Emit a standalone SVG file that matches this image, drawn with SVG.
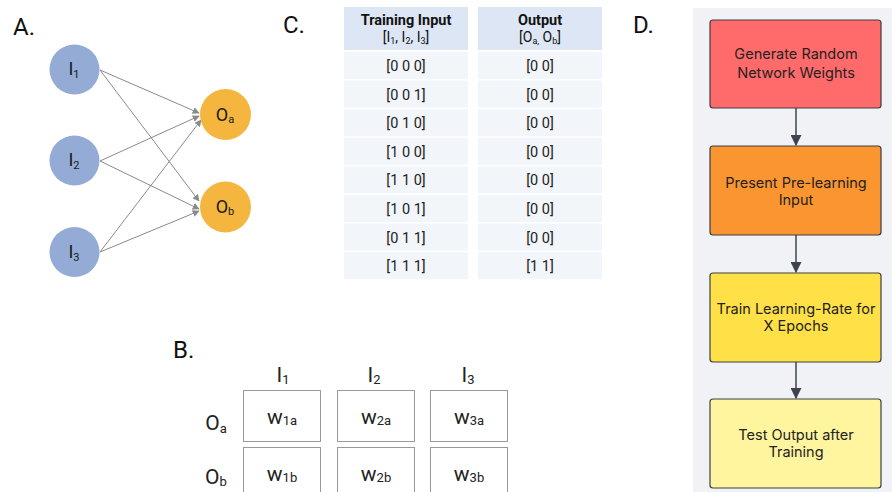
<svg xmlns="http://www.w3.org/2000/svg" width="892" height="492" viewBox="0 0 892 492">
<defs>
<marker id="ga" viewBox="0 0 10 10" refX="9" refY="5" markerWidth="7" markerHeight="7" orient="auto" markerUnits="userSpaceOnUse"><path d="M0,0 L10,5 L0,10 z" fill="#8a8a8a"/></marker>
<marker id="da" viewBox="0 0 10 10" refX="9" refY="5" markerWidth="11" markerHeight="11" orient="auto" markerUnits="userSpaceOnUse"><path d="M0,0 L10,5 L0,10 z" fill="#3d4450"/></marker>
</defs>
<style>
.lbl{font-family:Roboto,"Liberation Sans",sans-serif;font-size:24px;fill:#111}
.in{fill:#94abd6}
.out{fill:#f4b63f}
.nt{font-family:Roboto,"Liberation Sans",sans-serif;font-size:18px;fill:#1a1a1a;text-anchor:middle}
.sub{font-size:11px}
.hd{fill:#dde6f5}
.rw{fill:#f2f5fa}
.ht{font-family:Roboto,"Liberation Sans",sans-serif;font-size:14.5px;font-weight:bold;fill:#111;text-anchor:middle}
.hs{font-family:Roboto,"Liberation Sans",sans-serif;font-size:14px;fill:#111;text-anchor:middle}
.rt{font-family:Roboto,"Liberation Sans",sans-serif;font-size:14.5px;fill:#222;text-anchor:middle}
.wb{fill:#fff;stroke:#999;stroke-width:1}
.wt{font-family:Roboto,"Liberation Sans",sans-serif;font-size:21px;fill:#222;text-anchor:middle}
.ws{font-size:13px}
.fb{stroke:#3a3f47;stroke-width:1.2}
.ft{font-family:Inter,"Liberation Sans",sans-serif;font-size:14.5px;fill:#222;text-anchor:middle}
.gl{stroke:#8a8a8a;stroke-width:1;fill:none}
.dl{stroke:#3d4450;stroke-width:1.5;fill:none}
</style>
<rect width="892" height="492" fill="#fff"/>

<!-- Panel labels -->
<text class="lbl" x="13" y="35">A.</text>
<text class="lbl" x="283" y="33">C.</text>
<text class="lbl" x="173" y="358">B.</text>
<text class="lbl" x="633" y="33">D.</text>

<!-- Panel A connectors -->
<g id="connectors-a">
<line class="gl" x1="100" y1="70" x2="199" y2="113" marker-end="url(#ga)"/>
<line class="gl" x1="100" y1="70" x2="199" y2="201" marker-end="url(#ga)"/>
<line class="gl" x1="100" y1="161" x2="199" y2="116" marker-end="url(#ga)"/>
<line class="gl" x1="100" y1="161" x2="199" y2="209" marker-end="url(#ga)"/>
<line class="gl" x1="100" y1="252" x2="201" y2="120" marker-end="url(#ga)"/>
<line class="gl" x1="100" y1="252" x2="199" y2="211" marker-end="url(#ga)"/>
</g>
<g id="node-I1"><circle class="in" cx="74.5" cy="69.5" r="25"/><text class="nt" x="74" y="75">I<tspan class="sub" dy="3">1</tspan></text></g>
<g id="node-I2"><circle class="in" cx="74.5" cy="160.5" r="25"/><text class="nt" x="74" y="166">I<tspan class="sub" dy="3">2</tspan></text></g>
<g id="node-I3"><circle class="in" cx="74.5" cy="252" r="25"/><text class="nt" x="74" y="258">I<tspan class="sub" dy="3">3</tspan></text></g>
<g id="node-Oa"><circle class="out" cx="225.5" cy="114.5" r="25.5"/><text class="nt" x="225" y="121">O<tspan class="sub" dy="2">a</tspan></text></g>
<g id="node-Ob"><circle class="out" cx="225.5" cy="207" r="25.5"/><text class="nt" x="225" y="213">O<tspan class="sub" dy="2">b</tspan></text></g>

<!-- Panel C table -->
<g id="table">
<rect class="hd" x="344" y="7" width="124" height="43"/>
<rect class="hd" x="478" y="7" width="124" height="43"/>
<text class="ht" x="406" y="25">Training Input</text>
<text class="hs" x="406" y="42">[I<tspan font-size="9" dy="2">1</tspan><tspan dy="-2">, I</tspan><tspan font-size="9" dy="2">2</tspan><tspan dy="-2">, I</tspan><tspan font-size="9" dy="2">3</tspan><tspan dy="-2">]</tspan></text>
<text class="ht" x="540" y="25">Output</text>
<text class="hs" x="540" y="42">[O<tspan font-size="9" dy="2">a,</tspan><tspan dy="-2"> O</tspan><tspan font-size="9" dy="2">b</tspan><tspan dy="-2">]</tspan></text>

<rect class="rw" x="344" y="52" width="124" height="27"/><rect class="rw" x="478" y="52" width="124" height="27"/>
<text class="rt" x="406" y="71">[0 0 0]</text><text class="rt" x="540" y="71">[0 0]</text>
<rect class="rw" x="344" y="80.6" width="124" height="27"/><rect class="rw" x="478" y="80.6" width="124" height="27"/>
<text class="rt" x="406" y="99.6">[0 0 1]</text><text class="rt" x="540" y="99.6">[0 0]</text>
<rect class="rw" x="344" y="109.2" width="124" height="27"/><rect class="rw" x="478" y="109.2" width="124" height="27"/>
<text class="rt" x="406" y="128.2">[0 1 0]</text><text class="rt" x="540" y="128.2">[0 0]</text>
<rect class="rw" x="344" y="137.8" width="124" height="27"/><rect class="rw" x="478" y="137.8" width="124" height="27"/>
<text class="rt" x="406" y="156.8">[1 0 0]</text><text class="rt" x="540" y="156.8">[0 0]</text>
<rect class="rw" x="344" y="166.4" width="124" height="27"/><rect class="rw" x="478" y="166.4" width="124" height="27"/>
<text class="rt" x="406" y="185.4">[1 1 0]</text><text class="rt" x="540" y="185.4">[0 0]</text>
<rect class="rw" x="344" y="195" width="124" height="27"/><rect class="rw" x="478" y="195" width="124" height="27"/>
<text class="rt" x="406" y="214">[1 0 1]</text><text class="rt" x="540" y="214">[0 0]</text>
<rect class="rw" x="344" y="223.6" width="124" height="27"/><rect class="rw" x="478" y="223.6" width="124" height="27"/>
<text class="rt" x="406" y="242.6">[0 1 1]</text><text class="rt" x="540" y="242.6">[0 0]</text>
<rect class="rw" x="344" y="252.2" width="124" height="27"/><rect class="rw" x="478" y="252.2" width="124" height="27"/>
<text class="rt" x="406" y="271.2">[1 1 1]</text><text class="rt" x="540" y="271.2">[1 1]</text>
</g>

<!-- Panel B weight matrix -->
<g id="matrix">
<text class="wt" x="283" y="382">I<tspan class="ws" dy="2">1</tspan></text>
<text class="wt" x="374" y="382">I<tspan class="ws" dy="2">2</tspan></text>
<text class="wt" x="468" y="382">I<tspan class="ws" dy="2">3</tspan></text>
<text class="wt" x="216" y="430">O<tspan class="ws" dy="3">a</tspan></text>
<text class="wt" x="216" y="484">O<tspan class="ws" dy="2">b</tspan></text>
<rect class="wb" x="243.5" y="390.5" width="77" height="51"/>
<rect class="wb" x="337.5" y="390.5" width="77" height="51"/>
<rect class="wb" x="430.5" y="390.5" width="77" height="51"/>
<rect class="wb" x="243.5" y="447.5" width="77" height="51"/>
<rect class="wb" x="337.5" y="447.5" width="77" height="51"/>
<rect class="wb" x="430.5" y="447.5" width="77" height="51"/>
<text class="wt" x="282" y="424">w<tspan class="ws" dy="1">1a</tspan></text>
<text class="wt" x="376" y="424">w<tspan class="ws" dy="1">2a</tspan></text>
<text class="wt" x="469" y="424">w<tspan class="ws" dy="1">3a</tspan></text>
<text class="wt" x="282" y="481">w<tspan class="ws" dy="1">1b</tspan></text>
<text class="wt" x="376" y="481">w<tspan class="ws" dy="1">2b</tspan></text>
<text class="wt" x="469" y="481">w<tspan class="ws" dy="1">3b</tspan></text>
</g>

<!-- Panel D flowchart -->
<rect x="693" y="8" width="199" height="484" fill="#f1f2f5"/>
<g id="connectors-d">
<line class="dl" x1="796" y1="108" x2="796" y2="145" marker-end="url(#da)"/>
<line class="dl" x1="796" y1="235" x2="796" y2="272" marker-end="url(#da)"/>
<line class="dl" x1="796" y1="362" x2="796" y2="398" marker-end="url(#da)"/>
</g>
<g id="step1"><rect class="fb" x="710" y="20" width="171" height="88" rx="3" fill="#ff6b6b"/><text class="ft" x="796" y="59">Generate Random</text><text class="ft" x="796" y="78">Network Weights</text></g>
<g id="step2"><rect class="fb" x="710" y="146" width="171" height="89" rx="3" fill="#fb9530"/><text class="ft" x="796" y="188">Present Pre-learning</text><text class="ft" x="796" y="205">Input</text></g>
<g id="step3"><rect class="fb" x="710" y="273" width="171" height="89" rx="3" fill="#ffe047"/><text class="ft" x="796" y="314">Train Learning-Rate for</text><text class="ft" x="796" y="331">X Epochs</text></g>
<g id="step4"><rect class="fb" x="710" y="399" width="171" height="89" rx="3" fill="#fff59f"/><text class="ft" x="796" y="440">Test Output after</text><text class="ft" x="796" y="457">Training</text></g>
</svg>
